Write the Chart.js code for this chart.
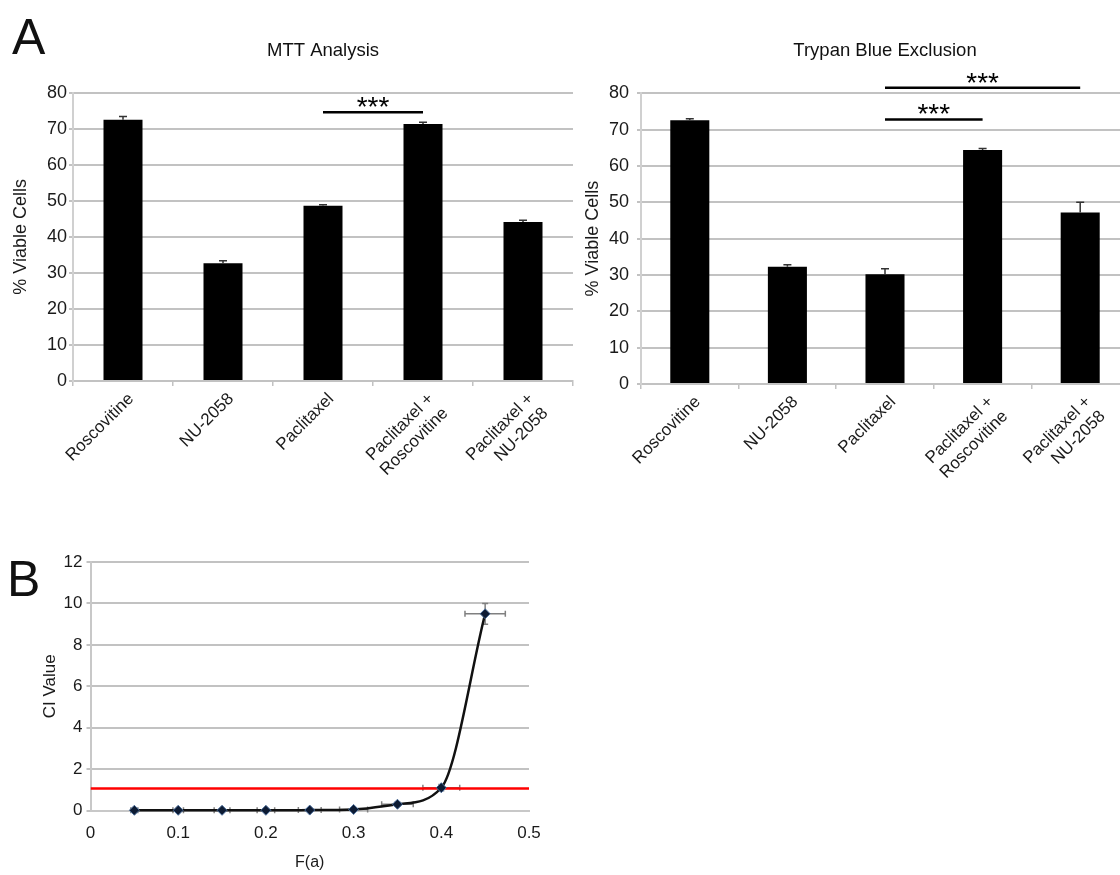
<!DOCTYPE html>
<html lang="en">
<head>
<meta charset="UTF-8">
<title>Cell viability and combination index</title>
<script src="https://cdn.jsdelivr.net/npm/chart.js"></script>
<style>
  * { box-sizing: border-box; margin: 0; padding: 0; }
  html, body { width: 1120px; height: 875px; overflow: hidden; background: #fff; }
  body { position: relative; font-family: 'Liberation Sans', Arial, sans-serif; color: #111; }
  .letter { position: absolute; font-size: 50px; line-height: 1; }
  canvas { position: absolute; }
  #mtt { left: 0; top: 0; }
  #trypan { left: 580px; top: 0; }
  #ci { left: 0; top: 540px; }
</style>
</head>
<body>
  <div class="letter" style="left:12px; top:12px;">A</div>
  <div class="letter" style="left:7px; top:554px;">B</div>
  <canvas id="mtt" width="580" height="520"></canvas>
  <canvas id="trypan" width="560" height="520"></canvas>
  <canvas id="ci" width="560" height="335"></canvas>
<script>
  // panel A
  const treatments = ['Roscovitine', 'NU-2058', 'Paclitaxel', ['Paclitaxel +', 'Roscovitine'], ['Paclitaxel +', 'NU-2058']];
  const mttViable = [72.5, 32.7, 48.6, 71.3, 44.1];
  const mttErr = [0.9, 0.7, 0.3, 0.5, 0.5];
  const trypanViable = [72.6, 32.3, 30.2, 64.4, 47.2];
  const trypanErr = [0.4, 0.5, 1.5, 0.4, 2.8];
  // significance brackets: category index from / to, height in % viable
  const mttSig = [{ from: 2, to: 3, at: 74.6 }];
  const trypanSig = [{ from: 2, to: 3, at: 72.8 }, { from: 2, to: 4, at: 81.5 }];
  const viableTicks = [0, 10, 20, 30, 40, 50, 60, 70, 80];

  // panel B
  const fa = [0.05, 0.1, 0.15, 0.2, 0.25, 0.3, 0.35, 0.4, 0.45];
  const ciVal = [0.01, 0.01, 0.01, 0.01, 0.02, 0.05, 0.3, 1.1, 9.5];
  const faErr = [0.004, 0.006, 0.009, 0.01, 0.013, 0.016, 0.018, 0.021, 0.023];
  const ciErr = [0.02, 0.02, 0.02, 0.02, 0.02, 0.03, 0.1, 0.15, 0.5];
  const ciThreshold = 1.06;
  const ciTicks = [0, 2, 4, 6, 8, 10, 12];
  const faTicks = [0, 0.1, 0.2, 0.3, 0.4, 0.5];

  const FONT = "'Liberation Sans', Arial, sans-serif";
  const GRID = '#c2c2c2';
  Chart.defaults.font.family = FONT;
  Chart.defaults.color = '#1a1a1a';
  Chart.defaults.animation = false;

  const barExtras = {
    id: 'barExtras',
    afterDatasetsDraw(chart, args, opts) {
      const { ctx, scales: { x, y } } = chart;
      const vals = chart.data.datasets[0].data;
      ctx.save();
      ctx.strokeStyle = '#333';
      ctx.lineWidth = 1.5;
      opts.errors.forEach((e, i) => {
        const px = x.getPixelForValue(i);
        const top = y.getPixelForValue(vals[i] + e);
        ctx.beginPath();
        ctx.moveTo(px, y.getPixelForValue(vals[i]));
        ctx.lineTo(px, top);
        ctx.moveTo(px - 4, top);
        ctx.lineTo(px + 4, top);
        ctx.stroke();
      });
      ctx.strokeStyle = '#000';
      ctx.fillStyle = '#000';
      ctx.lineWidth = 2.5;
      ctx.font = '28px ' + FONT;
      ctx.textAlign = 'center';
      ctx.textBaseline = 'alphabetic';
      opts.sig.forEach(s => {
        const x1 = x.getPixelForValue(s.from), x2 = x.getPixelForValue(s.to);
        const py = y.getPixelForValue(s.at);
        ctx.beginPath();
        ctx.moveTo(x1, py);
        ctx.lineTo(x2, py);
        ctx.stroke();
        ctx.fillText('***', (x1 + x2) / 2, py + 4);
      });
      ctx.restore();
    }
  };

  function viabilityChart(id, title, values, errors, sig, lay) {
    return new Chart(document.getElementById(id), {
      type: 'bar',
      data: {
        labels: treatments,
        datasets: [{ data: values, backgroundColor: '#000', barPercentage: lay.bar, categoryPercentage: 1 }]
      },
      options: {
        responsive: false,
        layout: { padding: { top: 0, left: 0, right: lay.padRight, bottom: 0 } },
        plugins: {
          legend: { display: false },
          tooltip: { enabled: false },
          title: {
            display: true, text: title, fullSize: false, color: '#111',
            font: { size: 18.5, weight: 'normal' },
            padding: { top: 40, bottom: lay.titleBottom }
          },
          barExtras: { errors, sig }
        },
        scales: {
          x: {
            grid: { drawOnChartArea: false, drawTicks: true, tickLength: 5, color: GRID, lineWidth: 1.5 },
            border: { color: GRID, width: 2 },
            ticks: { autoSkip: false, maxRotation: 45, minRotation: 45, padding: 3, labelOffset: 8, font: { size: 17 } },
            afterFit: s => { s.height = lay.xHeight; }
          },
          y: {
            min: 0, max: 80,
            afterBuildTicks: s => { s.ticks = viableTicks.map(v => ({ value: v })); },
            grid: { color: GRID, lineWidth: 2, tickLength: 4 },
            border: { color: '#d0d0d0', width: 2 },
            ticks: { padding: lay.tickPad, font: { size: 18 } },
            title: { display: true, text: '% Viable Cells', font: { size: 18 }, padding: { top: lay.yTitlePad } },
            afterFit: s => { s.width = lay.yWidth; }
          }
        }
      },
      plugins: [barExtras]
    });
  }

  viabilityChart('mtt', 'MTT Analysis', mttViable, mttErr, mttSig,
    { bar: 0.39, padRight: 7, titleBottom: 30.5, xHeight: 139, yWidth: 73, tickPad: 2, yTitlePad: 10 });
  viabilityChart('trypan', 'Trypan Blue Exclusion', trypanViable, trypanErr, trypanSig,
    { bar: 0.4, padRight: 11, titleBottom: 31.1, xHeight: 136, yWidth: 61, tickPad: 8, yTitlePad: 2 });

  const ciErrorBars = {
    id: 'ciErrorBars',
    beforeDatasetsDraw(chart) {
      const { ctx, scales: { x, y } } = chart;
      ctx.save();
      ctx.strokeStyle = '#808080';
      ctx.lineWidth = 1.5;
      fa.forEach((f, i) => {
        const px = x.getPixelForValue(f), py = y.getPixelForValue(ciVal[i]);
        const xl = x.getPixelForValue(f - faErr[i]), xr = x.getPixelForValue(f + faErr[i]);
        const yt = y.getPixelForValue(ciVal[i] + ciErr[i]), yb = y.getPixelForValue(ciVal[i] - ciErr[i]);
        ctx.beginPath();
        ctx.moveTo(xl, py); ctx.lineTo(xr, py);
        ctx.moveTo(xl, py - 3); ctx.lineTo(xl, py + 3);
        ctx.moveTo(xr, py - 3); ctx.lineTo(xr, py + 3);
        ctx.moveTo(px, yt); ctx.lineTo(px, yb);
        ctx.moveTo(px - 3, yt); ctx.lineTo(px + 3, yt);
        ctx.moveTo(px - 3, yb); ctx.lineTo(px + 3, yb);
        ctx.stroke();
      });
      ctx.restore();
    }
  };

  new Chart(document.getElementById('ci'), {
    type: 'line',
    data: {
      datasets: [
        {
          data: fa.map((f, i) => ({ x: f, y: ciVal[i] })),
          borderColor: '#111', borderWidth: 2.5,
          cubicInterpolationMode: 'monotone',
          pointStyle: 'rectRot', pointRadius: 5,
          pointBackgroundColor: '#0d1b33', pointBorderColor: '#4a6d9a', pointBorderWidth: 1,
          clip: false, order: 0
        },
        {
          data: [{ x: 0, y: ciThreshold }, { x: 0.5, y: ciThreshold }],
          borderColor: '#ff0000', borderWidth: 2.5, pointRadius: 0, order: 1
        }
      ]
    },
    options: {
      responsive: false,
      layout: { padding: { top: 22, left: 0, right: 31, bottom: 0 } },
      plugins: { legend: { display: false }, tooltip: { enabled: false } },
      scales: {
        x: {
          type: 'linear', min: 0, max: 0.5,
          afterBuildTicks: s => { s.ticks = faTicks.map(v => ({ value: v })); },
          grid: { display: false, drawTicks: false },
          border: { color: '#c8c8c8', width: 2 },
          ticks: { padding: 13, font: { size: 17 } },
          title: { display: true, text: 'F(a)', font: { size: 16 }, padding: { bottom: 3 } },
          afterFit: s => { s.height = 64.5; }
        },
        y: {
          min: 0, max: 12,
          afterBuildTicks: s => { s.ticks = ciTicks.map(v => ({ value: v })); },
          grid: { color: GRID, lineWidth: 2, tickLength: 4 },
          border: { color: '#c8c8c8', width: 2 },
          ticks: { padding: 4, font: { size: 17 } },
          title: { display: true, text: 'CI Value', font: { size: 17 }, padding: { top: 40 } },
          afterFit: s => { s.width = 90.5; }
        }
      }
    },
    plugins: [ciErrorBars]
  });
</script>
</body>
</html>
